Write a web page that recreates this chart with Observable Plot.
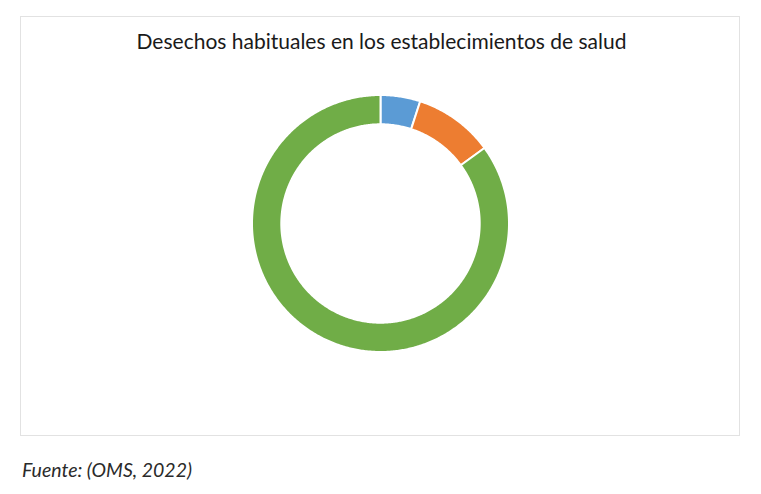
<!DOCTYPE html>
<html>
<head>
<meta charset="utf-8">
<script src="https://cdn.jsdelivr.net/npm/d3@7"></script>
<script src="https://cdn.jsdelivr.net/npm/@observablehq/plot@0.6"></script>
<style>
  html, body { margin: 0; padding: 0; background: #fff; }
  body { width: 761px; height: 494px; position: relative; overflow: hidden; font-family: Lato, "Open Sans", sans-serif; }
  #frame { position: absolute; left: 20px; top: 16px; width: 718px; height: 418px; border: 1px solid #e2e2e2; }
  #title { position: absolute; left: 0; top: 28px; width: 763px; text-align: center; font-size: 21px; color: #1a1a1a; font-weight: 400; }
  #chart { position: absolute; left: 0; top: 0; }
  #caption { position: absolute; left: 22px; top: 458px; font-size: 19.5px; font-style: italic; color: #2a2a2a; font-weight: 400; }
</style>
</head>
<body>
<div id="frame"></div>
<div id="title">Desechos habituales en los establecimientos de salud</div>
<div id="chart"></div>
<div id="caption">Fuente: (OMS, 2022)</div>
<script>
const categories = ["Químicos, farmacéuticos o radiactivos", "Infecciosos", "Desechos generales (no peligrosos)"];
const values = [5, 10, 85];
const colors = ["#5B9BD5", "#ED7D31", "#70AD47"];

const OUTER = 1;
const INNER = 0.772;
const total = d3.sum(values);
const pts = [];
let acc = 0;
categories.forEach((c, i) => {
  const a0 = acc / total * 2 * Math.PI;
  acc += values[i];
  const a1 = acc / total * 2 * Math.PI;
  const n = Math.max(8, Math.ceil((a1 - a0) / 0.01));
  for (let k = 0; k <= n; k++) {
    const a = a0 + (a1 - a0) * k / n;
    pts.push({cat: c, x: OUTER * Math.sin(a), y: OUTER * Math.cos(a)});
  }
  for (let k = n; k >= 0; k--) {
    const a = a0 + (a1 - a0) * k / n;
    pts.push({cat: c, x: INNER * Math.sin(a), y: INNER * Math.cos(a)});
  }
  pts.push({cat: c, x: OUTER * Math.sin(a0), y: OUTER * Math.cos(a0)});
});

const cx = 380, cy = 223, R = 128.5;
const chart = Plot.plot({
  width: 761,
  height: 494,
  margin: 0,
  x: {domain: [-1, 1], range: [cx - R, cx + R], axis: null},
  y: {domain: [-1, 1], range: [cy + R, cy - R], axis: null},
  color: {domain: categories, range: colors},
  style: {background: "transparent"},
  marks: [
    Plot.line(pts, {x: "x", y: "y", z: "cat", fill: "cat", stroke: "white", strokeWidth: 2, curve: "linear-closed"})
  ]
});
document.getElementById("chart").appendChild(chart);
</script>
</body>
</html>
